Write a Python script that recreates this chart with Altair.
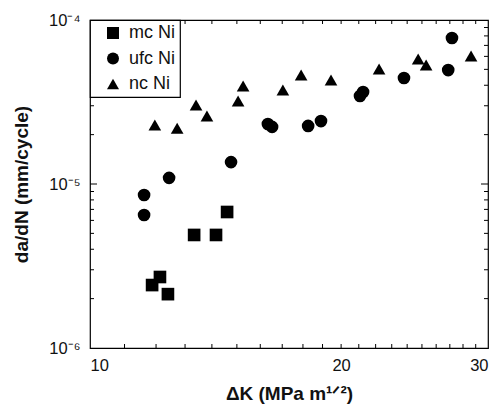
import altair as alt
import pandas as pd

# ---- data ----
series_names = ["mc Ni", "ufc Ni", "nc Ni"]

mc_dk = [11.87, 12.13, 12.40, 13.33, 14.16, 14.60]
mc_rate = [2.42e-6, 2.71e-6, 2.13e-6, 4.89e-6, 4.89e-6, 6.75e-6]

ufc_dk = [11.61, 11.61, 12.44, 14.76, 16.34, 16.53, 18.26, 18.92, 21.07, 21.25, 23.79, 26.88, 27.16]
ufc_rate = [8.57e-6, 6.47e-6, 1.09e-5, 1.36e-5, 2.32e-5, 2.23e-5, 2.26e-5, 2.42e-5,
            3.44e-5, 3.64e-5, 4.43e-5, 4.95e-5, 7.77e-5]

nc_dk = [11.96, 12.72, 13.40, 13.81, 15.05, 15.26, 17.03, 17.91, 19.45, 22.21, 24.74, 25.29, 28.63]
nc_rate = [2.29e-5, 2.19e-5, 3.03e-5, 2.60e-5, 3.21e-5, 3.96e-5, 3.74e-5, 4.62e-5,
           4.31e-5, 5.02e-5, 5.78e-5, 5.32e-5, 6.03e-5]

x_label_values = [10, 20, 30]
y_label_values = [1e-6, 1e-5, 1e-4]
x_minor_ticks = [11, 12, 13, 14, 15, 16, 17, 18, 19, 20, 21, 22, 23, 24, 25, 26, 27, 28, 29]
y_minor_ticks = [2e-6, 3e-6, 4e-6, 5e-6, 6e-6, 7e-6, 8e-6, 9e-6,
                 2e-5, 3e-5, 4e-5, 5e-5, 6e-5, 7e-5, 8e-5, 9e-5]
y_major_ticks = [1e-5]

W, H = 398, 328
FONT = "Liberation Sans"

df = pd.concat([
    pd.DataFrame({"dk": mc_dk, "rate": mc_rate, "series": series_names[0]}),
    pd.DataFrame({"dk": ufc_dk, "rate": ufc_rate, "series": series_names[1]}),
    pd.DataFrame({"dk": nc_dk, "rate": nc_rate, "series": series_names[2]}),
], ignore_index=True)

xscale = alt.Scale(type="log", domain=[10, 30], nice=False, zero=False)
yscale = alt.Scale(type="log", domain=[1e-6, 1e-4], nice=False, zero=False)
XT = "ΔK (MPa m¹ᐟ²)"
YT = "da/dN (mm/cycle)"

xaxis = alt.Axis(values=x_label_values, format="d", ticks=False, domain=False, grid=False,
                 labelPadding=9, labelFontSize=16.5, labelColor="#111",
                 titleFontSize=19, titleFontWeight="bold", titlePadding=11, titleColor="#111")
yaxis = alt.Axis(values=y_label_values, ticks=False, domain=False, grid=False,
                 labelExpr="datum.value > 5e-5 ? '10⁻⁴' : (datum.value > 5e-6 ? '10⁻⁵' : '10⁻⁶')",
                 labelPadding=10, labelFontSize=16.5, labelColor="#111",
                 titleFontSize=19, titleFontWeight="bold", titlePadding=17, titleColor="#111")

points = alt.Chart(df).mark_point(filled=True, opacity=1, color="black", strokeWidth=0, size=160).encode(
    x=alt.X("dk:Q", scale=xscale, title=XT, axis=xaxis),
    y=alt.Y("rate:Q", scale=yscale, title=YT, axis=yaxis),
    shape=alt.Shape("series:N",
                    scale=alt.Scale(domain=series_names, range=["square", "circle", "triangle-up"]),
                    legend=alt.Legend(title=None, orient="top-left", offset=0,
                                      labelExpr="datum.label + '    '")),
)

def xrule(vals, y1, y2):
    d = pd.DataFrame({"v": vals})
    return alt.Chart(d).mark_rule(color="black", strokeWidth=1).encode(
        x=alt.X("v:Q", scale=xscale, title=XT, axis=xaxis), y=alt.value(y1), y2=alt.value(y2))

def yrule(vals, x1, x2):
    d = pd.DataFrame({"v": vals})
    return alt.Chart(d).mark_rule(color="black", strokeWidth=1).encode(
        y=alt.Y("v:Q", scale=yscale, title=YT, axis=yaxis), x=alt.value(x1), x2=alt.value(x2))

ticks = [
    xrule(x_minor_ticks, H, H - 4),
    xrule(x_minor_ticks, 0, 4),
    yrule(y_minor_ticks, 0, 4),
    yrule(y_minor_ticks, W, W - 4),
    yrule(y_major_ticks, 0, 7),
    yrule(y_major_ticks, W, W - 7),
]

chart = alt.layer(points, *ticks).properties(
    width=W, height=H,
    autosize=alt.AutoSizeParams(type="none"),
    padding={"left": 90, "top": 20, "right": 12, "bottom": 64},
).configure(font=FONT, background="white").configure_view(
    stroke="black", strokeWidth=1.2
).configure_legend(
    strokeColor="black", strokeWidth=1.2, fillColor="white", padding=4,
    symbolOffset=10, labelOffset=7, rowPadding=7.5, symbolSize=144,
    symbolFillColor="black", symbolStrokeWidth=0, labelFontSize=18, labelColor="#111",
    labelFont=FONT, cornerRadius=0,
)

chart.save("out.html", embed_options={"renderer": "svg", "actions": False})
